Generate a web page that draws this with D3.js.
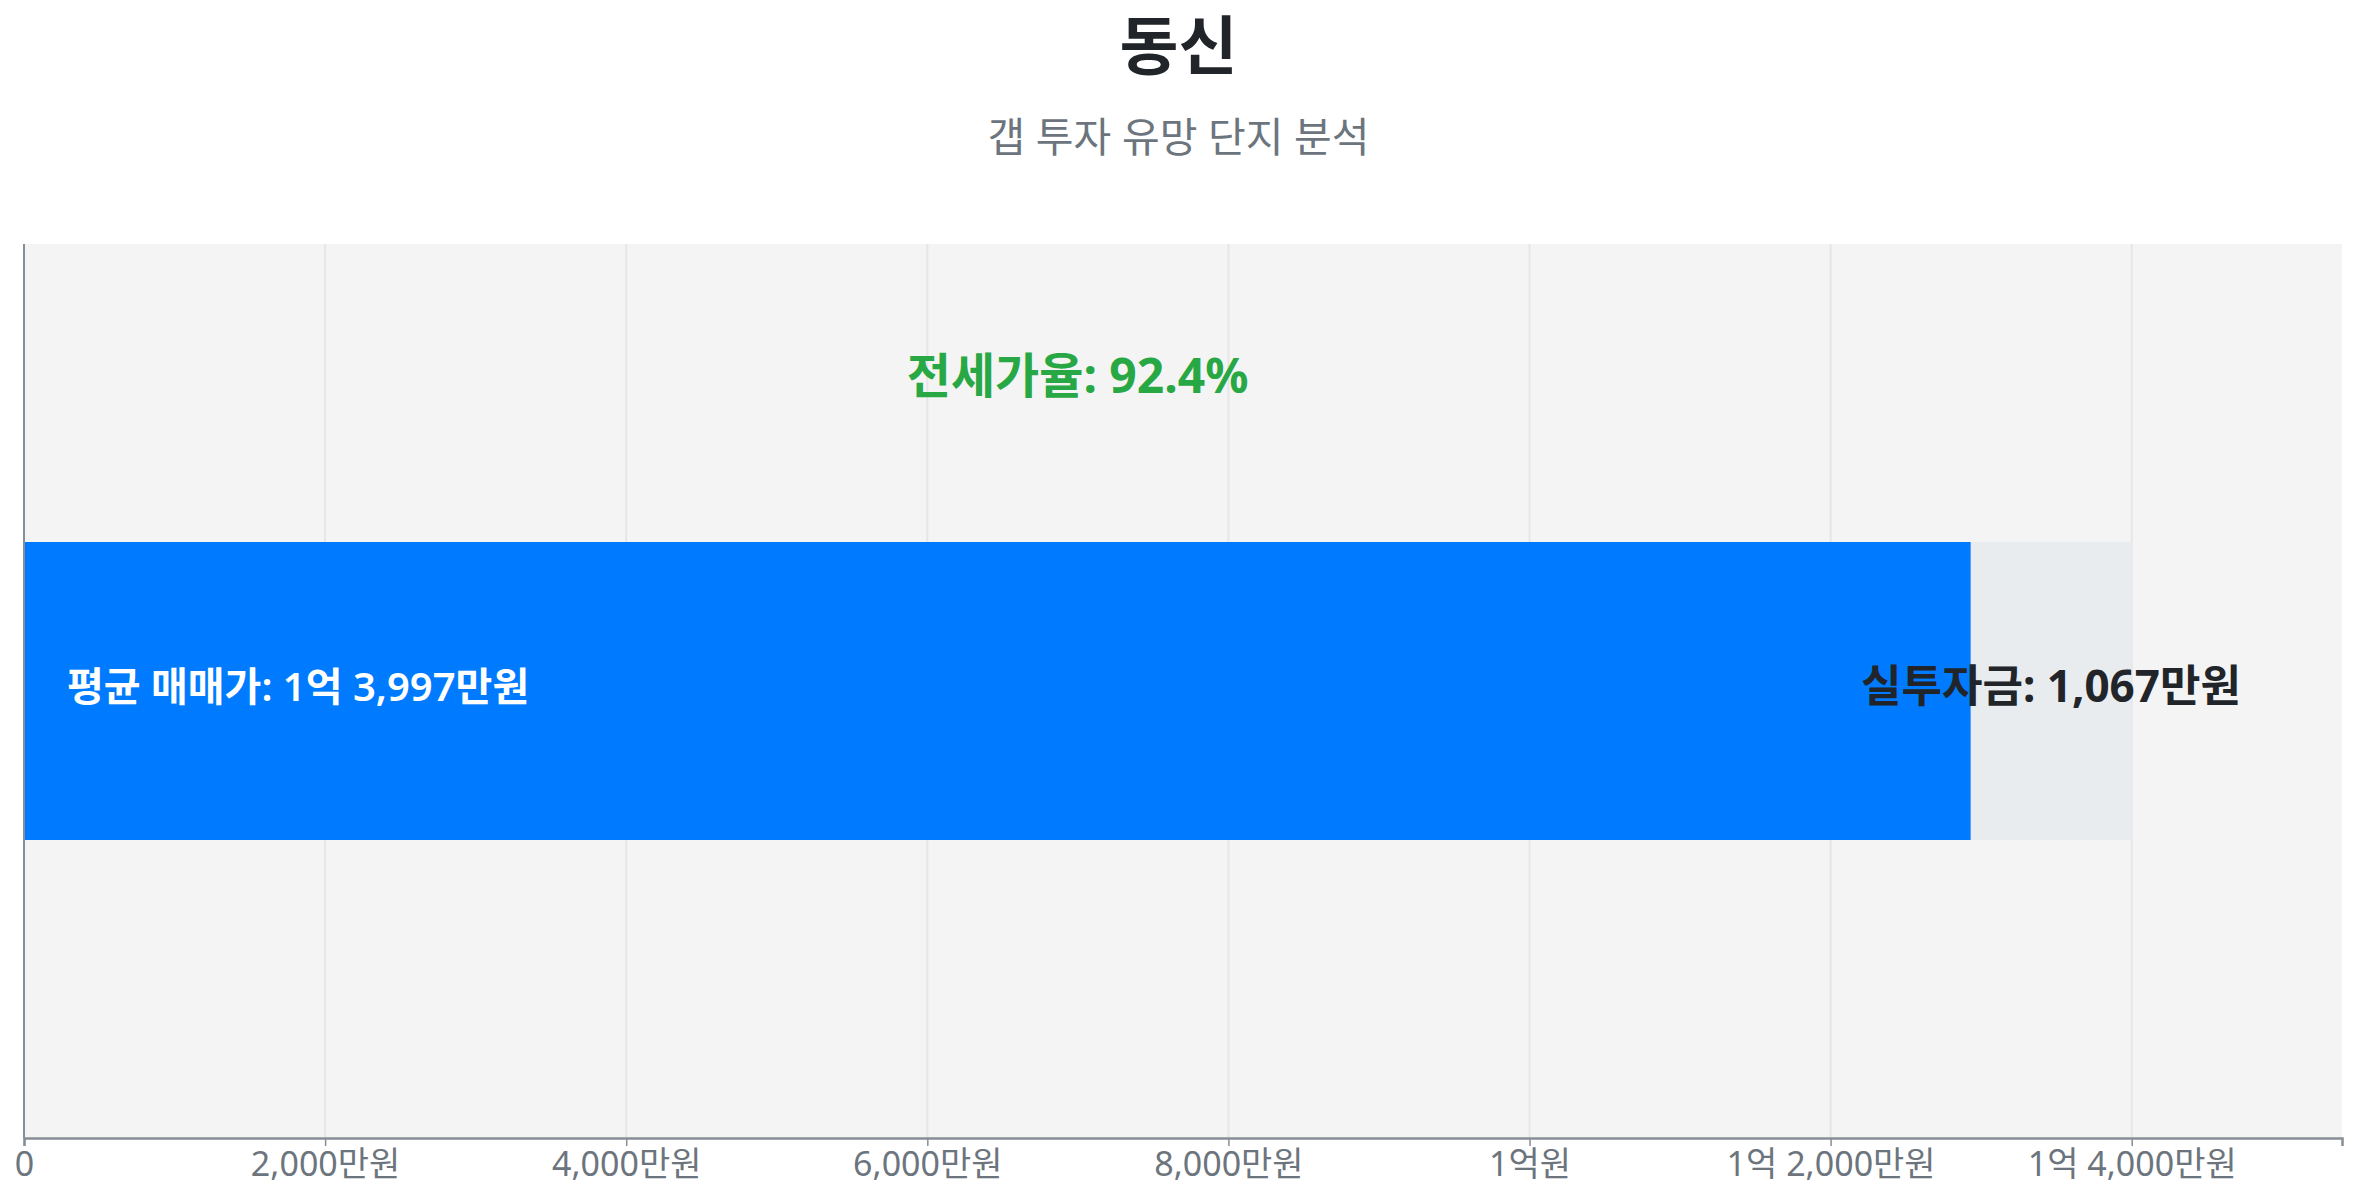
<!DOCTYPE html>
<html><head><meta charset="utf-8">
<script src="https://cdn.jsdelivr.net/npm/d3@7"></script>
<style>
html,body{margin:0;padding:0;background:#fff;}
svg{display:block;font-family:"Noto Sans","Noto Sans CJK KR",sans-serif;}
</style></head><body>
<svg id="c" width="2357" height="1200"></svg>
<script>
const title = "동신";
const subtitle = "갭 투자 유망 단지 분석";
const categories = ["동신"];
const avgPrice = [13997];      // 만원
const investment = [1067];     // 만원
const jeonseRatio = [92.4];    // %
const tickValues = [0, 2000, 4000, 6000, 8000, 10000, 12000, 14000];

function fmtMan(v){
  if (v === 0) return "0";
  const eok = Math.floor(v / 10000), man = v % 10000;
  if (eok > 0 && man === 0) return eok + "억원";
  if (eok > 0) return eok + "억 " + d3.format(",")(man) + "만원";
  return d3.format(",")(man) + "만원";
}

const svg = d3.select("#c");
const W = 2357, H = 1200;
const m = {left: 24, right: 15, top: 244, bottom: 62};
const iw = W - m.left - m.right, ih = H - m.top - m.bottom;

svg.append("text").attr("x", W/2).attr("y", 69).attr("text-anchor","middle")
  .attr("font-size", 64).attr("font-weight", 700).attr("fill", "#212529").text(title);
svg.append("text").attr("x", W/2).attr("y", 152).attr("text-anchor","middle")
  .attr("font-size", 41).attr("fill", "#6c757d").text(subtitle);

const g = svg.append("g").attr("transform", `translate(${m.left},${m.top})`);
const x = d3.scaleLinear().domain([0, avgPrice[0] * 1.1]).range([0, iw]);
const y = d3.scaleBand().domain(categories).range([0, ih]).padding(0.5);

g.append("rect").attr("width", iw).attr("height", ih).attr("fill", "#f4f4f4");
g.selectAll(".grid").data(tickValues).join("line")
  .attr("x1", d => x(d)).attr("x2", d => x(d)).attr("y1", 0).attr("y2", ih)
  .attr("stroke", "#e6e6e6").attr("stroke-width", 2);

const data = categories.map((c, i) => ({c, price: avgPrice[i], inv: investment[i], jeonse: avgPrice[i] - investment[i], ratio: jeonseRatio[i]}));

g.selectAll(".bg").data(data).join("rect")
  .attr("x", x(0)).attr("y", d => y(d.c)).attr("width", d => x(d.price) - x(0))
  .attr("height", y.bandwidth()).attr("fill", "#e9ecef");
g.selectAll(".fg").data(data).join("rect")
  .attr("x", x(0)).attr("y", d => y(d.c)).attr("width", d => x(d.jeonse) - x(0))
  .attr("height", y.bandwidth()).attr("fill", "#007bff");

g.selectAll(".lp").data(data).join("text")
  .attr("x", x(0) + 43).attr("y", d => y(d.c) + y.bandwidth()/2 - 4).attr("dy", "0.35em")
  .attr("font-size", 40).attr("font-weight", 600).attr("fill", "#fff")
  .text(d => "평균 매매가: " + fmtMan(d.price));
g.selectAll(".li").data(data).join("text")
  .attr("x", d => (x(d.jeonse) + x(d.price)) / 2).attr("y", d => y(d.c) + y.bandwidth()/2 - 4).attr("dy", "0.35em")
  .attr("text-anchor", "middle").attr("font-size", 44).attr("font-weight", 700).attr("fill", "#212529")
  .text(d => "실투자금: " + d3.format(",")(d.inv) + "만원");
g.selectAll(".lr").data(data).join("text")
  .attr("x", d => x(d.price / 2)).attr("y", d => y(d.c) - 166).attr("dy", "0.35em")
  .attr("text-anchor", "middle").attr("font-size", 48).attr("font-weight", 700).attr("fill", "#28a745")
  .text(d => "전세가율: " + d.ratio.toFixed(1) + "%");

const xa = g.append("g").attr("transform", `translate(0,${ih})`)
  .call(d3.axisBottom(x).tickValues(tickValues).tickFormat(fmtMan).tickSize(8).tickPadding(6));
xa.select(".domain").attr("stroke", "#868e96").attr("stroke-width", 2.5);
xa.selectAll(".tick line").attr("stroke", "#868e96").attr("stroke-width", 1.5);
xa.selectAll(".tick text").attr("font-size", 34).attr("fill", "#6c757d").attr("font-family", "'Noto Sans','Noto Sans CJK KR', sans-serif");

g.append("line").attr("x1", 0).attr("x2", 0).attr("y1", 0).attr("y2", ih)
  .attr("stroke", "#868e96").attr("stroke-width", 2);
</script></body></html>
